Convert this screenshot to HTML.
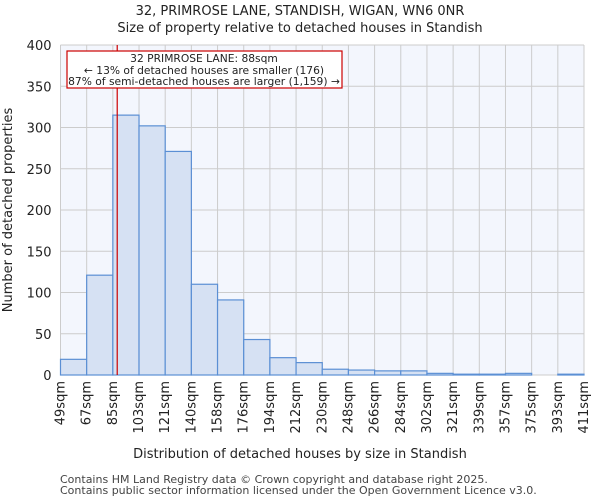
<!DOCTYPE html>
<html><head><meta charset="utf-8"><style>
body{margin:0;background:#fff;font-family:"DejaVu Sans","Liberation Sans",sans-serif;}
svg text{font-family:"DejaVu Sans","Liberation Sans",sans-serif;}
</style></head><body>
<svg id="chart" width="600" height="500" xmlns="http://www.w3.org/2000/svg">
<text x="300" y="15" text-anchor="middle" font-size="13" fill="#222">32, PRIMROSE LANE, STANDISH, WIGAN, WN6 0NR</text>
<text x="300" y="32" text-anchor="middle" font-size="13" fill="#222">Size of property relative to detached houses in Standish</text>
<rect x="60.5" y="45" width="523.5" height="330" fill="#f3f6fd"/>
<g id="grid"></g>
<g id="bars"></g>
<g id="yticks"></g>
<g id="xticks"></g>
<line id="marker" stroke="#cc0000" stroke-width="1.2"/>
<rect x="67" y="51" width="275" height="37" fill="#fff" stroke="#cc0000" stroke-width="1.2"/>
<text x="204" y="62" text-anchor="middle" font-size="10.7" fill="#222">32 PRIMROSE LANE: 88sqm</text>
<text x="204" y="74" text-anchor="middle" font-size="10.7" fill="#222">← 13% of detached houses are smaller (176)</text>
<text x="204" y="85" text-anchor="middle" font-size="10.7" fill="#222">87% of semi-detached houses are larger (1,159) →</text>
<text x="300" y="458" text-anchor="middle" font-size="13" fill="#222">Distribution of detached houses by size in Standish</text>
<text transform="translate(12,210) rotate(-90)" text-anchor="middle" font-size="13" fill="#222">Number of detached properties</text>
<text x="60" y="483" font-size="11" fill="#444">Contains HM Land Registry data © Crown copyright and database right 2025.</text>
<text x="60" y="494" font-size="11" fill="#444">Contains public sector information licensed under the Open Government Licence v3.0.</text>
</svg>
<script>
const binLabels = ["49sqm","67sqm","85sqm","103sqm","121sqm","140sqm","158sqm","176sqm","194sqm","212sqm","230sqm","248sqm","266sqm","284sqm","302sqm","321sqm","339sqm","357sqm","375sqm","393sqm","411sqm"];
const binEdges = [49,67,85,103,121,140,158,176,194,212,230,248,266,284,302,321,339,357,375,393,411];
const counts = [19,121,315,302,271,110,91,43,21,15,7,6,5,5,2,1,1,2,0,1];
const yTicks = [0,50,100,150,200,250,300,350,400];
const propertySize = 88;

const NS="http://www.w3.org/2000/svg";
const x0=60.5, x1=584, y0=375, y1=45, yMax=400;
const nb=counts.length;
function xIdx(i){return x0+(x1-x0)*i/nb;}
function xVal(v){
  for(let i=0;i<binEdges.length-1;i++){
    if(v<=binEdges[i+1]) return xIdx(i)+(v-binEdges[i])/(binEdges[i+1]-binEdges[i])*(x1-x0)/nb;
  }
  return x1;
}
function y(v){return y0-(y0-y1)*v/yMax;}
function mk(tag,attrs,parent){const e=document.createElementNS(NS,tag);for(const k in attrs)e.setAttribute(k,attrs[k]);parent.appendChild(e);return e;}
const grid=document.getElementById('grid'),bars=document.getElementById('bars'),yt=document.getElementById('yticks'),xt=document.getElementById('xticks');
for(let i=0;i<=nb;i++){
  const l=mk('line',{x1:xIdx(i),x2:xIdx(i),y1:y1,y2:y0,stroke:'#cccccc','stroke-width':1},grid);
  
  
}
yTicks.forEach(t=>{
  const l=mk('line',{x1:x0,x2:x1,y1:y(t),y2:y(t),stroke:'#cccccc','stroke-width':1},grid);
  
  
  const tx=mk('text',{x:x0-9,y:y(t)+5,'text-anchor':'end','font-size':13,fill:'#222'},yt);
  tx.textContent=t;
  
  
});
counts.forEach((c,i)=>{
  const r=mk('rect',{x:xIdx(i),y:y(c),width:(x1-x0)/nb,height:y0-y(c),fill:'#d6e1f3',stroke:'#5b8fd4','stroke-width':1.2},bars);
  
  
});
binLabels.forEach((lb,i)=>{
  const xx=xIdx(i)+4;
  const tx=mk('text',{transform:`translate(${xx},381) rotate(-90)`,'text-anchor':'end','font-size':13,fill:'#222'},xt);
  tx.textContent=lb;
  
  
});
const m=document.getElementById('marker');
const mx=xVal(propertySize);
m.setAttribute('x1',mx);m.setAttribute('x2',mx);m.setAttribute('y1',y1);m.setAttribute('y2',y0);
</script>
</body></html>
